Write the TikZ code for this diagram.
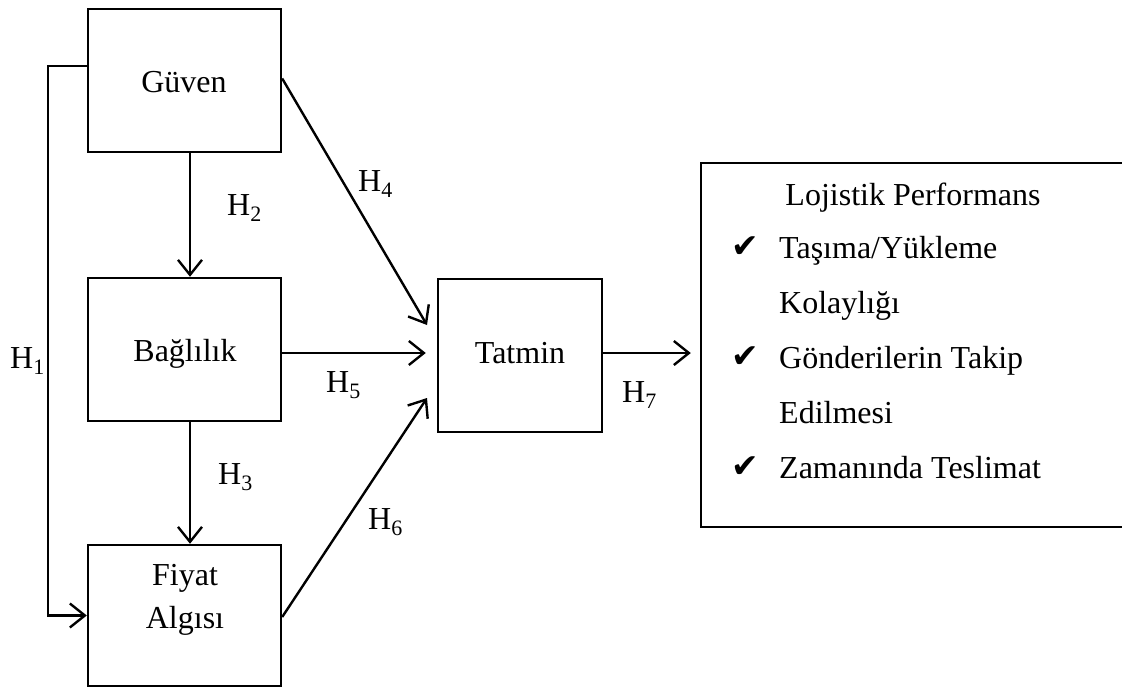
\documentclass[tikz,border=0pt]{standalone}
\usepackage{fontspec}
\setmainfont{Liberation Serif}
\newfontfamily\symfont{DejaVu Sans}
\usetikzlibrary{arrows.meta}
\tikzset{
  box/.style={draw, line width=2.4pt, inner sep=0pt, minimum width=#1},
  txt/.style={inner sep=0pt, anchor=base, font=\fontsize{32}{38}\selectfont},
  hlab/.style={inner sep=0pt, anchor=base west, font=\fontsize{32}{38}\selectfont},
  itemtxt/.style={inner sep=0pt, anchor=base west, font=\fontsize{32}{38}\selectfont},
  tick/.style={inner sep=0pt, anchor=base west, font=\symfont\fontsize{33}{36}\selectfont},
  arr/.style={line width=2.4pt, -{Straight Barb[length=15pt,width=24pt,line width=2.4pt]}},
}
% hypothesis label with a lowered index in the text font
\newcommand{\hyp}[1]{H\raisebox{-6pt}{\fontsize{22}{24}\selectfont #1}}
\begin{document}
\begin{tikzpicture}[x=1pt,y=-1pt]
\clip (0,0) rectangle (1122,688);

% boxes
\node[box=193pt, minimum height=143pt] (guven)    at (184.5,80.5)  {};
\node[box=193pt, minimum height=143pt] (baglilik) at (184.5,349.5) {};
\node[box=193pt, minimum height=141pt] (fiyat)    at (184.5,615.5) {};
\node[box=164pt, minimum height=153pt] (tatmin)   at (520,355.5)   {};
\node[box=430pt, minimum height=364pt] (lojistik) at (916,345)     {};

% box titles
\node[txt] (tguven)  at (184,92)  {Güven};
\node[txt] (tbag)    at (185,361) {Bağlılık};
\node[txt] (tfiyat1) at (185,585) {Fiyat};
\node[txt] (tfiyat2) at (185,628) {Algısı};
\node[txt] (ttatmin) at (520,363) {Tatmin};

% logistics performance list
\node[txt] (tloj) at (913,205) {Lojistik Performans};
\node[tick] (c1) at (731,257) {✔};
\node[tick] (c2) at (731,367) {✔};
\node[tick] (c3) at (731,477) {✔};
\node[itemtxt] (i1a) at (779,258) {Taşıma/Yükleme};
\node[itemtxt] (i1b) at (779,313) {Kolaylığı};
\node[itemtxt] (i2a) at (779,368) {Gönderilerin Takip};
\node[itemtxt] (i2b) at (779,423) {Edilmesi};
\node[itemtxt] (i3)  at (779,478) {Zamanında Teslimat};

% arrow end points in front of the target boxes
\coordinate (h4end) at (427,325);
\coordinate (h6end) at (427,398);

% connectors
\draw[arr] ([yshift=14.5pt]guven.west) -- ++(-39,0) |- (fiyat.west);
\draw[arr] ([xshift=5.5pt]guven.south) -- ([xshift=5.5pt]baglilik.north);
\draw[arr] ([xshift=5.5pt]baglilik.south) -- ([xshift=5.5pt]fiyat.north);
\draw[arr] ([yshift=2pt]guven.east) -- (h4end);
\draw[arr, shorten >=11pt] ([yshift=-3.5pt]baglilik.east) -- ([yshift=-3.5pt]baglilik.east -| tatmin.west);
\draw[arr] ([yshift=-1.5pt]fiyat.east) -- (h6end);
\draw[arr, shorten >=9pt] ([yshift=2.5pt]tatmin.east) -- ([yshift=2.5pt]tatmin.east -| lojistik.west);

% hypothesis labels
\node[hlab] (h1) at (10,368)  {\hyp{1}};
\node[hlab] (h2) at (227,215) {\hyp{2}};
\node[hlab] (h3) at (218,484) {\hyp{3}};
\node[hlab] (h4) at (358,191) {\hyp{4}};
\node[hlab] (h5) at (326,392) {\hyp{5}};
\node[hlab] (h6) at (368,529) {\hyp{6}};
\node[hlab] (h7) at (622,402) {\hyp{7}};
\end{tikzpicture}
\end{document}
